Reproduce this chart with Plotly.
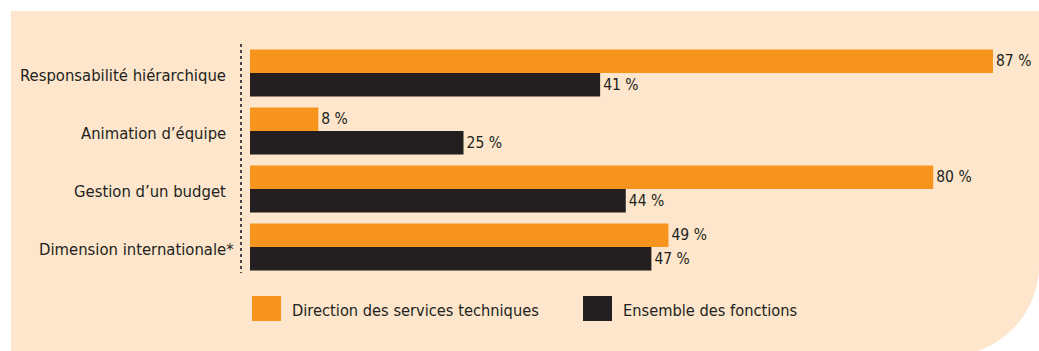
import math
import plotly.graph_objects as go

# Data
categories = [
    "Responsabilité hiérarchique",
    "Animation d’équipe",
    "Gestion d’un budget",
    "Dimension internationale*",
]
series_names = ["Direction des services techniques", "Ensemble des fonctions"]
dst_values = [87, 8, 80, 49]
all_values = [41, 25, 44, 47]

W, H = 1039, 351
PEACH = "#FDE6CB"
ORANGE = "#F7941E"
DARK = "#231F20"
TEXT = "#231F20"
FONT = "DejaVu Sans Condensed"


def px(x):
    return x / W


def py(y):
    return 1 - y / H


# Axis geometry (pixels)
x0_px = 250
px_per_unit = 8.54
row0_px = 73
row_step = 58
bar_w = 23.5 / row_step

idx = list(range(len(categories)))

fig = go.Figure()
for vals, name, color, off in [
    (dst_values, series_names[0], ORANGE, -bar_w),
    (all_values, series_names[1], DARK, 0.0),
]:
    fig.add_trace(go.Bar(
        x=vals, y=idx, orientation="h", name=name,
        marker=dict(color=color, line=dict(width=0)),
        width=bar_w, offset=off,
        text=[f"{v} %" for v in vals], textposition="outside",
        textfont=dict(family=FONT, size=15.5, color=TEXT),
        constraintext="none", cliponaxis=False,
        showlegend=False,
    ))

# Peach panel with a rounded bottom-right corner
r, cy = 91, 265
cx = W - r
pts = [(11, 11), (W, 11), (W, cy)]
for k in range(0, 91):
    a = math.radians(k)
    x = cx + r * math.cos(a)
    y = cy + r * math.sin(a)
    if y > H:
        x = cx + math.sqrt(max(r * r - (H - cy) ** 2, 0))
        pts.append((x, H))
        break
    pts.append((x, y))
pts.append((11, H))
path = "M " + " L ".join(f"{px(a):.5f},{py(b):.5f}" for a, b in pts) + " Z"

shapes = [
    dict(type="path", path=path, xref="paper", yref="paper",
         fillcolor=PEACH, line=dict(width=0), layer="below"),
    dict(type="line", xref="paper", yref="paper",
         x0=px(241), x1=px(241), y0=py(44), y1=py(273),
         line=dict(color="#4A4546", width=2, dash="dot")),
]

annotations = []
for i, c in enumerate(categories):
    annotations.append(dict(
        text=c, xref="paper", yref="y", x=px(228), y=i,
        xanchor="right", yanchor="middle", showarrow=False,
        xshift=8 if c.endswith("*") else 0, yshift=-2,
        font=dict(family=FONT, size=16.5, color=TEXT),
    ))

# Legend drawn as swatches + labels
legend_items = [(series_names[0], ORANGE, 252), (series_names[1], DARK, 583)]
for name, color, lx in legend_items:
    shapes.append(dict(type="rect", xref="paper", yref="paper",
                       x0=px(lx), x1=px(lx + 29), y0=py(321), y1=py(296),
                       fillcolor=color, line=dict(width=0)))
    annotations.append(dict(
        text=name, xref="paper", yref="paper", x=px(lx + 38), y=py(310),
        xanchor="left", yanchor="middle", showarrow=False,
        font=dict(family=FONT, size=16.3, color=TEXT),
    ))

y_top = -row0_px / row_step
y_bot = (H - row0_px) / row_step

fig.update_layout(
    width=W, height=H, margin=dict(l=0, r=0, t=0, b=0),
    paper_bgcolor="white", plot_bgcolor="rgba(0,0,0,0)",
    barmode="overlay", showlegend=False,
    xaxis=dict(domain=[px(x0_px), 1], range=[0, (W - x0_px) / px_per_unit],
               visible=False, fixedrange=True),
    yaxis=dict(domain=[0, 1], range=[y_bot, y_top], visible=False,
               fixedrange=True),
    shapes=shapes, annotations=annotations,
    font=dict(family=FONT),
)

fig.write_html("out.html")
